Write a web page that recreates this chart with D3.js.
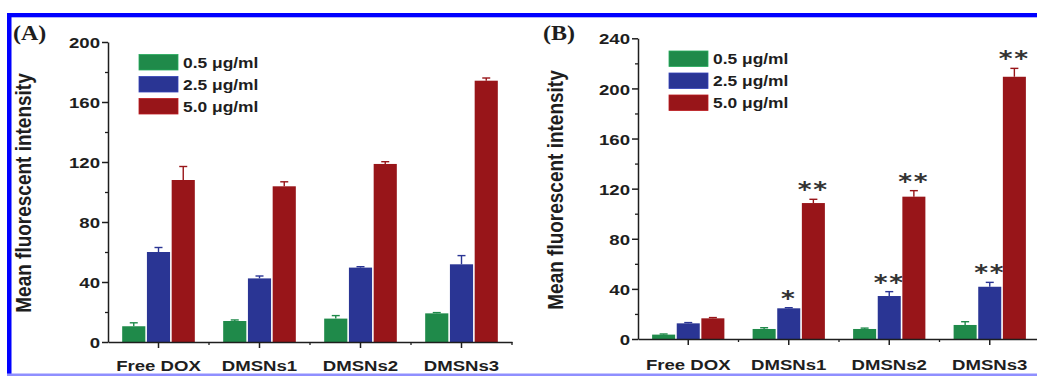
<!DOCTYPE html>
<html>
<head>
<meta charset="utf-8">
<script src="https://cdn.jsdelivr.net/npm/d3@7"></script>
<style>
  html, body { margin: 0; padding: 0; background: #fff; }
  svg { display: block; }
</style>
</head>
<body>
<svg id="chart" width="1037" height="376"></svg>
<script>
// ---------------- data ----------------
const categories = ["Free DOX", "DMSNs1", "DMSNs2", "DMSNs3"];
const seriesLabels = ["0.5 μg/ml", "2.5 μg/ml", "5.0 μg/ml"];
const seriesColors = ["#1f8a4a", "#2a3594", "#981519"];

// Panel A
const aTicks = [0, 40, 80, 120, 160, 200];
const aLow = [10.5, 14.0, 15.6, 19.1];
const aLowErr = [2.3, 0.7, 2.0, 0.5];
const aMid = [60.0, 42.4, 49.6, 51.8];
const aMidErr = [3.0, 1.6, 0.6, 5.8];
const aHigh = [108.0, 103.8, 118.7, 174.2];
const aHighErr = [9.0, 3.0, 1.5, 1.8];

// Panel B
const bTicks = [0, 40, 80, 120, 160, 200, 240];
const bLow = [3.5, 8.0, 8.0, 11.2];
const bLowErr = [0.5, 1.0, 0.7, 2.6];
const bMid = [12.5, 24.5, 34.3, 41.7];
const bMidErr = [0.6, 0.5, 3.5, 3.5];
const bHigh = [16.5, 108.5, 113.6, 209.3];
const bHighErr = [0.6, 3.0, 4.8, 6.7];
const bMidSig = ["", "*", "**", "**"];
const bHighSig = ["", "**", "**", "**"];
const bLowSig = ["", "", "", ""];

const yTitle = "Mean fluorescent intensity";

// ---------------- drawing ----------------
const svg = d3.select("#chart");
const SX = 1.2; // horizontal stretch of the original figure
const ink = "#1e1e1e";

// frame
svg.append("rect").attr("x", 7).attr("y", 13).attr("width", 1030).attr("height", 4).attr("fill", "#0000ff");
svg.append("rect").attr("x", 7).attr("y", 17).attr("width", 1030).attr("height", 1).attr("fill", "#b0b0ff");
svg.append("rect").attr("x", 7).attr("y", 13).attr("width", 4.5).attr("height", 363).attr("fill", "#0000ff");
svg.append("rect").attr("x", 7).attr("y", 373.5).attr("width", 1030).attr("height", 2.5).attr("fill", "#8f8fff");

function stretchedText(g, x, y, txt, opts) {
  return g.append("text")
    .attr("transform", `translate(${x},${y}) scale(${SX},1)` + (opts.rotate ? ` rotate(${opts.rotate})` : ""))
    .attr("text-anchor", opts.anchor || "start")
    .attr("font-family", opts.family || "Arial, 'Liberation Sans', sans-serif")
    .attr("font-weight", opts.weight || "bold")
    .attr("font-size", opts.size)
    .attr("fill", opts.fill || ink)
    .text(txt);
}

function drawPanel(p) {
  const g = svg.append("g");
  const x0 = d3.scaleBand().domain(categories).range(p.xRange).paddingInner(0).paddingOuter(0);
  const bw = x0.bandwidth();
  const groupW = bw * 0.735;
  const x1 = d3.scaleBand().domain(d3.range(seriesLabels.length)).range([(bw - groupW) / 2, (bw + groupW) / 2]);
  const barW = x1.bandwidth() - 1.6;
  const y = d3.scaleLinear().domain(p.yDomain).range(p.yRange);

  // bars + error bars
  p.series.forEach((vals, si) => {
    const errs = p.errors[si];
    const col = seriesColors[si];
    const sg = g.append("g");
    sg.selectAll("rect").data(vals).join("rect")
      .attr("x", (d, i) => x0(categories[i]) + x1(si) + 0.8)
      .attr("y", d => y(d))
      .attr("width", barW)
      .attr("height", d => y(0) - y(d))
      .attr("fill", col);
    const eg = sg.append("g").attr("stroke", col).attr("stroke-width", 1.4);
    vals.forEach((d, i) => {
      const cx = x0(categories[i]) + x1(si) + x1.bandwidth() / 2;
      eg.append("line").attr("x1", cx).attr("x2", cx).attr("y1", y(d)).attr("y2", y(d + errs[i]));
      eg.append("line").attr("x1", cx - 4).attr("x2", cx + 4).attr("y1", y(d + errs[i])).attr("y2", y(d + errs[i]));
    });
    if (p.sig) {
      vals.forEach((d, i) => {
        const s = p.sig[si][i];
        if (!s) return;
        const cx = x0(categories[i]) + x1(si) + x1.bandwidth() / 2;
        stretchedText(g, cx, y(d + errs[i]) - 2, s, {anchor: "middle", size: 22, weight: "bold", family: "'DejaVu Sans', sans-serif", fill: "#333"})
          .attr("letter-spacing", 1.5);
      });
    }
  });

  // y axis
  const minorY = d3.range(p.yDomain[0] + 20, p.yDomain[1], 40);
  const ya = g.append("g").attr("transform", `translate(${p.xRange[0]},0)`)
    .call(d3.axisLeft(y).tickValues(p.ticks).tickSize(6).tickSizeOuter(0).tickPadding(3));
  ya.select(".domain").attr("stroke", ink).attr("stroke-width", 1.5);
  ya.selectAll(".tick line").attr("stroke", ink).attr("stroke-width", 1.5);
  ya.selectAll(".tick text")
    .attr("x", null).attr("dy", "0.36em")
    .attr("transform", `translate(-8,0) scale(${SX},1)`)
    .attr("font-family", "Arial, 'Liberation Sans', sans-serif")
    .attr("font-weight", "bold").attr("font-size", 15.5).attr("fill", ink);
  const ym = g.append("g").attr("transform", `translate(${p.xRange[0]},0)`)
    .call(d3.axisLeft(y).tickValues(minorY).tickSize(3).tickFormat(""));
  ym.select(".domain").remove();
  ym.selectAll(".tick line").attr("stroke", ink).attr("stroke-width", 1.3);

  // x axis
  const xa = g.append("g").attr("transform", `translate(0,${y(0)})`)
    .call(d3.axisBottom(x0).tickSize(6).tickSizeOuter(0).tickPadding(0));
  xa.select(".domain").attr("stroke", ink).attr("stroke-width", 1.5);
  xa.selectAll(".tick line").attr("stroke", ink).attr("stroke-width", 1.5);
  xa.selectAll(".tick text")
    .attr("y", null).attr("dy", null)
    .attr("transform", `translate(0,${p.xLabelY - y(0)}) scale(${SX},1)`)
    .attr("font-family", "Arial, 'Liberation Sans', sans-serif")
    .attr("font-weight", "bold").attr("font-size", 15.5).attr("fill", ink);
  // minor ticks at category boundaries
  const bounds = d3.range(categories.length + 1).map(i => p.xRange[0] + i * x0.step());
  g.append("g").selectAll("line").data(bounds.slice(1)).join("line")
    .attr("x1", d => d).attr("x2", d => d)
    .attr("y1", y(0)).attr("y2", y(0) + 3)
    .attr("stroke", ink).attr("stroke-width", 1.3);

  // y title
  stretchedText(g, p.titleX, p.titleY, yTitle, {anchor: "middle", size: 19, rotate: -90});

  // panel label
  stretchedText(g, p.labelX, p.labelY, p.label, {size: 20, family: "'Liberation Serif', 'Times New Roman', serif"});

  // legend
  const lg = g.append("g");
  seriesLabels.forEach((lab, i) => {
    const ly = p.legendY + i * 22;
    lg.append("rect").attr("x", p.legendX).attr("y", ly).attr("width", 39).attr("height", 15.5)
      .attr("fill", seriesColors[i]).attr("stroke", d3.color(seriesColors[i]).brighter(0.6)).attr("stroke-width", 0.8);
    stretchedText(lg, p.legendX + 44, ly + 13, lab, {size: 14.5});
  });
}

drawPanel({
  label: "(A)", labelX: 13, labelY: 40,
  xRange: [108, 512], yDomain: [0, 200], yRange: [342, 42], ticks: aTicks,
  series: [aLow, aMid, aHigh], errors: [aLowErr, aMidErr, aHighErr],
  xLabelY: 371, titleX: 31, titleY: 193,
  legendX: 139, legendY: 54.5
});

drawPanel({
  label: "(B)", labelX: 543, labelY: 40,
  xRange: [638, 1040], yDomain: [0, 240], yRange: [339, 38.3], ticks: bTicks,
  series: [bLow, bMid, bHigh], errors: [bLowErr, bMidErr, bHighErr],
  sig: [bLowSig, bMidSig, bHighSig],
  xLabelY: 370, titleX: 563, titleY: 190,
  legendX: 669, legendY: 51
});
</script>
</body>
</html>
